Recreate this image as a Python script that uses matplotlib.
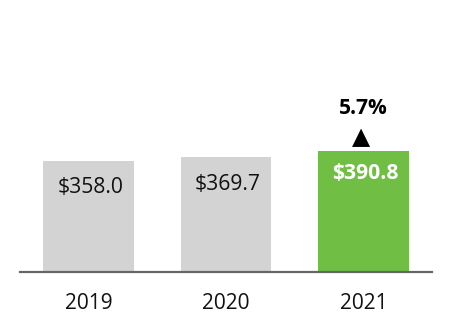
import matplotlib
matplotlib.use("Agg")
import matplotlib.pyplot as plt

years = ["2019", "2020", "2021"]
values = [358.0, 369.7, 390.8]
labels = ["$358.0", "$369.7", "$390.8"]
growth_label = "5.7%"

colors = ["#D3D3D3", "#D3D3D3", "#70BF44"]
label_colors = ["#111111", "#111111", "white"]
label_weights = ["normal", "normal", "bold"]
label_offsets = [-27, -27, -23]

plt.rcParams['font.family'] = ['Open Sans', 'DejaVu Sans']

fig = plt.figure(figsize=(4.52, 3.32), dpi=100)
ax = fig.add_axes([20/452, 60/332, 412/452, 272/332])
x = list(range(len(years)))
ax.bar(x, values, width=0.66, color=colors, zorder=2)
ax.set_xlim(-0.5, 2.5)
ax.set_ylim(0, 877)

for xi, v, lab, c, w, off in zip(x, values, labels, label_colors, label_weights, label_offsets):
    ax.annotate(lab.replace("$", r"\$"), (xi, v), xytext=(2, off), textcoords="offset pixels",
                ha="center", va="center", fontsize=15.2, color=c, fontweight=w)

ax.annotate("\u25B2", (x[-1], values[-1]), xytext=(-2, 14), textcoords="offset pixels",
            ha="center", va="center", fontsize=17, color="black", family=['DejaVu Sans'])
ax.annotate(growth_label, (x[-1], values[-1]), xytext=(0, 42), textcoords="offset pixels",
            ha="center", va="center", fontsize=15, color="black", fontweight="bold")

for s in ["top", "right", "left"]:
    ax.spines[s].set_visible(False)
ax.spines["bottom"].set_color("#666666")
ax.spines["bottom"].set_linewidth(1.6)
ax.set_yticks([])
ax.set_xticks(x)
ax.set_xticklabels(years, fontsize=15, color="#111111")
ax.tick_params(axis="x", length=0, pad=15)

fig.savefig("out.png", dpi=100)
